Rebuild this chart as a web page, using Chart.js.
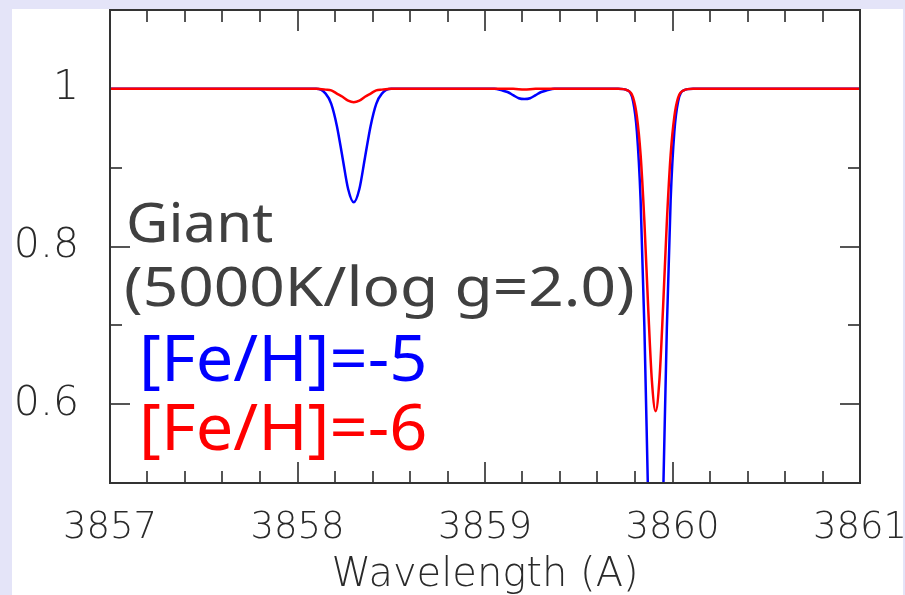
<!DOCTYPE html>
<html>
<head>
<meta charset="utf-8">
<script src="https://cdn.jsdelivr.net/npm/chart.js@4.4.1/dist/chart.umd.min.js"></script>
<style>
  html, body { margin: 0; padding: 0; background: #e4e4f8; }
  body { width: 905px; height: 595px; position: relative; overflow: hidden; }
  #chart { position: absolute; left: 0; top: 0; }
  .note { position: absolute; font-family: "Noto Sans", "Open Sans", sans-serif; line-height: 1; white-space: nowrap; transform-origin: left top; }
</style>
</head>
<body>
<canvas id="chart" width="905" height="595"></canvas>
<div class="note" style="left:126px; top:193px; font-size:55px; color:#404040; transform:scaleX(1.06);">Giant</div>
<div class="note" style="left:124px; top:257px; font-size:55px; color:#404040; transform:scaleX(1.13);">(5000K/log g=2.0)</div>
<div class="note" style="left:139px; top:325px; font-size:63px; color:#0000ff; transform:scaleX(1.06);">[Fe/H]=-5</div>
<div class="note" style="left:139px; top:394px; font-size:63px; color:#ff0000; transform:scaleX(1.06);">[Fe/H]=-6</div>
<script>
// spectrum, [Fe/H]=-5 (blue)
const waveFe5 = [3857.00,
  3858.10, 3858.15, 3858.18, 3858.21, 3858.24, 3858.27, 3858.30, 3858.33, 3858.36, 3858.39, 3858.42, 3858.45, 3858.50,
  3859.05, 3859.09, 3859.12, 3859.15, 3859.18, 3859.21, 3859.24, 3859.27, 3859.30, 3859.33, 3859.37,
  3859.71, 3859.76, 3859.79, 3859.81, 3859.83, 3859.85, 3859.87, 3859.89, 3859.91, 3859.93, 3859.95, 3859.97, 3859.99, 3860.01, 3860.03, 3860.06, 3860.11,
  3861.00];
const fluxFe5 = [1.000,
  1.000, 0.994, 0.981, 0.953, 0.913, 0.873, 0.856, 0.873, 0.913, 0.953, 0.981, 0.994, 1.000,
  1.000, 0.998, 0.996, 0.992, 0.988, 0.987, 0.988, 0.992, 0.996, 0.998, 1.000,
  1.000, 0.998, 0.984, 0.946, 0.858, 0.698, 0.481, 0.282, 0.200, 0.282, 0.481, 0.698, 0.858, 0.946, 0.984, 0.998, 1.000,
  1.000];

// [Fe/H]=-6 (red)
const waveFe6 = [3857.00,
  3858.10, 3858.15, 3858.18, 3858.21, 3858.24, 3858.27, 3858.30, 3858.33, 3858.36, 3858.39, 3858.42, 3858.45, 3858.50,
  3859.15, 3859.21, 3859.27,
  3859.71, 3859.76, 3859.79, 3859.81, 3859.83, 3859.85, 3859.87, 3859.89, 3859.91, 3859.93, 3859.95, 3859.97, 3859.99, 3860.01, 3860.03, 3860.06, 3860.11,
  3861.00];
const fluxFe6 = [1.000,
  1.000, 0.999, 0.998, 0.994, 0.990, 0.985, 0.983, 0.985, 0.990, 0.994, 0.998, 0.999, 1.000,
  1.000, 0.999, 1.000,
  1.000, 0.998, 0.989, 0.965, 0.916, 0.832, 0.724, 0.630, 0.591, 0.630, 0.724, 0.832, 0.916, 0.965, 0.989, 0.998, 1.000,
  1.000];

const xLabelTicks = [3857, 3858, 3859, 3860, 3861];
const xMinorTicks = [3857.2, 3857.4, 3857.6, 3857.8, 3858.2, 3858.4, 3858.6, 3858.8, 3859.2, 3859.4, 3859.6, 3859.8, 3860.2, 3860.4, 3860.6, 3860.8];
const yLabelTicks = [0.6, 0.8, 1.0];
const yMinorTicks = [0.7, 0.9];

const toPoints = (xs, ys) => xs.map((x, i) => ({ x: x, y: ys[i] }));

// white slide panel behind everything
const panelPlugin = {
  id: 'panel',
  beforeDraw(chart) {
    const ctx = chart.ctx;
    ctx.save();
    ctx.fillStyle = '#ffffff';
    ctx.fillRect(12, 9, 891, 586);
    ctx.restore();
  }
};

// inward ticks on all four sides (under the lines), frame on top
const framePlugin = {
  id: 'frame',
  beforeDatasetsDraw(chart) {
    const { ctx, chartArea: a, scales: { x, y } } = chart;
    ctx.save();
    ctx.strokeStyle = '#555';
    ctx.lineWidth = 2;
    ctx.beginPath();
    const xt = (v, len) => {
      const px = Math.round(x.getPixelForValue(v));
      ctx.moveTo(px, a.bottom); ctx.lineTo(px, a.bottom - len);
      ctx.moveTo(px, a.top); ctx.lineTo(px, a.top + len);
    };
    const yt = (v, len) => {
      const py = Math.round(y.getPixelForValue(v));
      ctx.moveTo(a.left, py); ctx.lineTo(a.left + len, py);
      ctx.moveTo(a.right, py); ctx.lineTo(a.right - len, py);
    };
    xLabelTicks.forEach(v => xt(v, 21));
    xMinorTicks.forEach(v => xt(v, 12));
    yLabelTicks.forEach(v => yt(v, 20));
    yMinorTicks.forEach(v => yt(v, 12));
    ctx.stroke();
    ctx.restore();
  },
  afterDatasetsDraw(chart) {
    const { ctx, chartArea: a } = chart;
    ctx.save();
    ctx.strokeStyle = '#333';
    ctx.lineWidth = 2;
    ctx.strokeRect(a.left, a.top, a.right - a.left, a.bottom - a.top);
    ctx.restore();
  }
};

const thinFont = size => ({ family: 'DejaVu Sans', size: size, weight: 200 });

new Chart(document.getElementById('chart'), {
  type: 'line',
  data: {
    datasets: [
      {
        label: '[Fe/H]=-5',
        data: toPoints(waveFe5, fluxFe5),
        borderColor: '#0000ff',
        borderWidth: 2.5,
        pointRadius: 0,
        cubicInterpolationMode: 'monotone',
        order: 1
      },
      {
        label: '[Fe/H]=-6',
        data: toPoints(waveFe6, fluxFe6),
        borderColor: '#ff0000',
        borderWidth: 2.5,
        pointRadius: 0,
        cubicInterpolationMode: 'monotone',
        order: 0
      }
    ]
  },
  options: {
    responsive: false,
    animation: false,
    devicePixelRatio: 1,
    layout: { padding: { left: 0, top: 10, right: 45, bottom: 0 } },
    plugins: { legend: { display: false }, tooltip: { enabled: false } },
    scales: {
      x: {
        type: 'linear',
        min: 3857,
        max: 3861,
        grid: { display: false, drawTicks: false },
        border: { display: false },
        afterBuildTicks: s => { s.ticks = xLabelTicks.map(v => ({ value: v })); },
        afterFit: s => { s.height = 112; s.paddingLeft = 0; s.paddingRight = 0; },
        ticks: {
          font: thinFont(37),
          color: '#2a2a2a',
          padding: 23,
          maxRotation: 0,
          autoSkip: false,
          callback: v => String(v)
        },
        title: {
          display: true,
          text: 'Wavelength (A)',
          font: thinFont(40),
          color: '#2a2a2a',
          padding: { top: 0, bottom: -5 }
        }
      },
      y: {
        min: 0.5,
        max: 1.1,
        grid: { display: false, drawTicks: false },
        border: { display: false },
        afterBuildTicks: s => { s.ticks = yLabelTicks.map(v => ({ value: v })); },
        afterFit: s => { s.width = 110; s.paddingTop = 0; s.paddingBottom = 0; },
        ticks: {
          font: thinFont(41),
          color: '#2a2a2a',
          padding: 31,
          callback: v => String(Math.round(v * 10) / 10)
        }
      }
    }
  },
  plugins: [panelPlugin, framePlugin]
});
</script>
</body>
</html>
